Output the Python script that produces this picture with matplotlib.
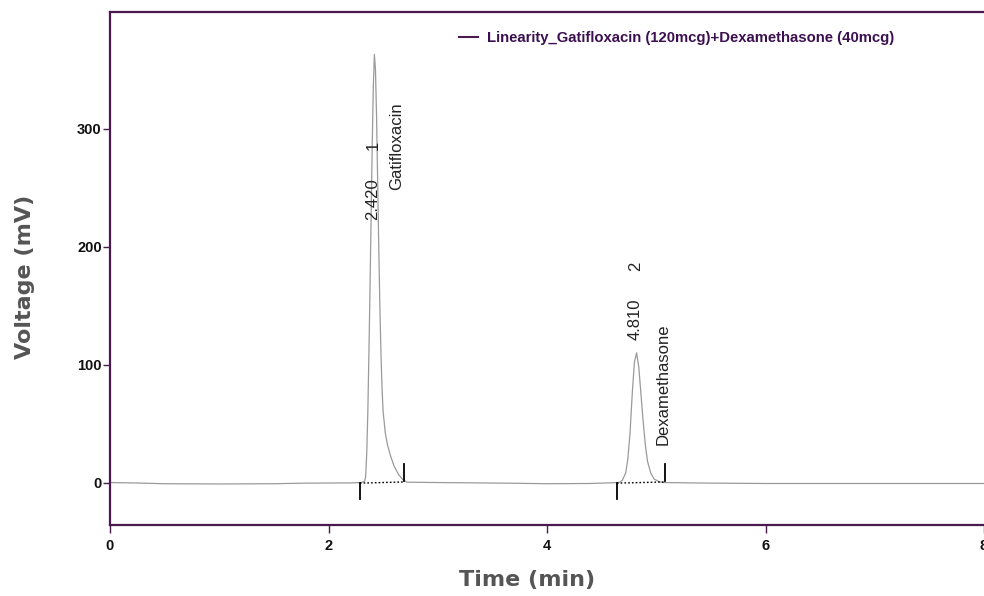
import matplotlib
matplotlib.use("Agg")
import matplotlib.pyplot as plt
from matplotlib.lines import Line2D

# ---- data ----
time_min = [0.0, 0.2, 0.5, 1.0, 1.5, 1.8, 2.2, 2.30, 2.33, 2.34, 2.35, 2.36, 2.37, 2.38, 2.39, 2.40,
            2.41, 2.42, 2.43, 2.44, 2.45, 2.46, 2.47, 2.48, 2.49, 2.50, 2.52, 2.54, 2.57, 2.60,
            2.64, 2.68, 2.72, 3.0, 3.6, 4.0, 4.4, 4.66, 4.69, 4.72, 4.74, 4.76, 4.78, 4.80,
            4.82, 4.84, 4.86, 4.88, 4.90, 4.92, 4.95, 4.98, 5.02, 5.06, 5.5, 6.0, 7.0, 8.0]
voltage_mv = [0.0, -0.3, -1.0, -1.2, -1.0, -0.5, -0.3, 0.0, 1, 5, 25, 60, 110, 165, 225, 285,
              335, 363, 350, 310, 255, 200, 150, 110, 80, 60, 42, 32, 22, 14,
              7, 2.5, 0.3, 0.0, -0.5, -1.0, -0.8, 0.0, 2, 8, 20, 42, 75, 102,
              110, 98, 75, 52, 32, 18, 8, 3, 1, 0.0, -0.5, -0.8, -0.8, -0.8]

peak_rt = [2.420, 4.810]
peak_num = ["1", "2"]
peak_names = ["Gatifloxacin", "Dexamethasone"]
peak_start = [2.287, 4.64]
peak_end = [2.69, 5.08]

x_ticks = [0, 2, 4, 6, 8]
y_ticks = [0, 100, 200, 300]
legend_label = "Linearity_Gatifloxacin (120mcg)+Dexamethasone (40mcg)"

# ---- figure ----
purple = "#4a1a4e"
arial = ["Liberation Sans", "DejaVu Sans"]

fig = plt.figure(figsize=(9.84, 5.96), dpi=100)
W, H = 984, 596
ax = fig.add_axes([110 / W, (H - 525) / H, (984 - 110) / W, (525 - 12) / H])

ax.plot(time_min, voltage_mv, color="#9a9a9a", lw=0.9)

# integration baseline markers
for s, e in zip(peak_start, peak_end):
    ax.plot([s, e], [-0.5, 0.5], color="black", lw=1.0, ls=(0, (1.2, 1.5)))
    ax.plot([s, s], [0, -14], color="black", lw=1.3)
    ax.plot([e, e], [1.5, 16], color="black", lw=1.3)

# peak labels
txt_kw = dict(rotation=90, ha="center", va="bottom", fontsize=12, color="#222222", family=arial)
ax.text(2.406, 223, f"{peak_rt[0]:.3f}", **txt_kw)
ax.text(2.406, 282, peak_num[0], **txt_kw)
ax.text(2.626, 248, peak_names[0], **txt_kw)
ax.text(4.81, 121, f"{peak_rt[1]:.3f}", **txt_kw)
ax.text(4.81, 179, peak_num[1], **txt_kw)
ax.text(5.06, 32, peak_names[1], **txt_kw)

ax.set_xlim(0, 8)
ax.set_ylim(-36, 399)
ax.set_xticks(x_ticks)
ax.set_yticks(y_ticks)
ax.set_xticklabels([str(v) for v in x_ticks], family=arial, fontsize=10.5, fontweight="bold")
ax.set_yticklabels([str(v) for v in y_ticks], family=arial, fontsize=10.5, fontweight="bold")
ax.tick_params(axis="x", direction="out", length=6, width=1, color=purple, pad=4, labelcolor="#111111")
ax.tick_params(axis="y", direction="out", length=5, width=1, color=purple, pad=1, labelcolor="#111111")
for sp in ax.spines.values():
    sp.set_color(purple)
    sp.set_linewidth(1.6)
ax.spines["right"].set_visible(False)

handle = Line2D([0], [0], color=purple, lw=1.5)
leg = ax.legend([handle], [legend_label], loc="upper left",
                bbox_to_anchor=(459 / W, 1 - 31 / H), bbox_transform=fig.transFigure,
                frameon=False, borderpad=0, borderaxespad=0, handlelength=1.3,
                handletextpad=0.6, prop=dict(family=arial, size=10.7, weight="bold"),
                labelcolor="#3c1050")

fig.text(25 / W, 1 - 277 / H, "Voltage (mV)", rotation=90, ha="center", va="center",
         fontsize=16, fontweight="bold", color="#555555", family="DejaVu Sans")
fig.text(527 / W, 1 - 580 / H, "Time (min)", ha="center", va="center",
         fontsize=16, fontweight="bold", color="#555555", family="DejaVu Sans")

fig.savefig("out.png", dpi=100)
